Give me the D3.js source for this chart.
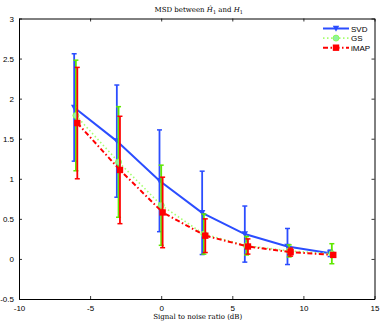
<!DOCTYPE html>
<html>
<head>
<meta charset="utf-8">
<script src="https://cdn.jsdelivr.net/npm/d3@7"></script>
<style>
  body { margin: 0; background: #fff; }
  .tick text { font-family: "Liberation Sans", Arial, sans-serif; font-size: 8px; }
</style>
</head>
<body>
<div id="content"></div>
<script>
// signal to noise ratio (dB)
var snr = [-6, -3, 0, 3, 6, 9, 12];

var svdMean = [1.89, 1.47, 0.975, 0.575, 0.31, 0.155, 0.07];
var svdErr  = [0.67, 0.70, 0.635, 0.52, 0.35, 0.225, 0.04];
var gsMean  = [1.79, 1.21, 0.67, 0.31, 0.165, 0.10, 0.065];
var gsErr   = [0.69, 0.69, 0.50, 0.25, 0.115, 0.075, 0.125];
var imapMean = [1.695, 1.11, 0.58, 0.29, 0.155, 0.085, 0.05];
var imapErr  = [0.695, 0.67, 0.44, 0.21, 0.095, 0.05, 0.02];

var xTicks = [-10, -5, 0, 5, 10, 15];
var yTicks = [-0.5, 0, 0.5, 1, 1.5, 2, 2.5, 3];

var W = 382, H = 323;
var margin = {
    top: 18.5,
    right: 7.5,
    bottom: 24,
    left: 19
},
    width = W - margin.left - margin.right,
    height = H - margin.top - margin.bottom;

var x = d3.scaleLinear().domain([-10, 15]).range([0, width]);
var y = d3.scaleLinear().domain([-0.5, 3]).range([height, 0]);

var svg = d3.select("#content").append("svg")
    .attr("width", W)
    .attr("height", H);

svg.append("text")
    .attr("x", margin.left + width / 2 + 2)
    .attr("y", 12)
    .attr("text-anchor", "middle")
    .style("font-family", "'DejaVu Serif', 'Liberation Serif', serif")
    .style("font-size", "7px")
    .html("MSD between <tspan font-style='italic'>Ĥ</tspan><tspan font-size='5px' dy='1.5'>1</tspan><tspan dy='-1.5'> and </tspan><tspan font-style='italic'>H</tspan><tspan font-size='5px' dy='1.5'>1</tspan>");

svg.append("text")
    .attr("x", margin.left + width / 2 + 1)
    .attr("y", 318.5)
    .attr("text-anchor", "middle")
    .style("font-family", "'DejaVu Serif', 'Liberation Serif', serif")
    .style("font-size", "7px")
    .text("Signal to noise ratio (dB)");

var g = svg.append("g")
    .attr("transform", "translate(" + margin.left + "," + margin.top + ")");

// axes, matlab style with inward ticks on all sides
function fmt(d) { return d3.format("")(d).replace("\u2212", "-"); }
g.append("g")
    .attr("transform", "translate(0," + height + ")")
    .call(d3.axisBottom(x).tickValues(xTicks).tickSizeInner(-3).tickSizeOuter(0).tickPadding(6).tickFormat(fmt));
g.append("g")
    .call(d3.axisTop(x).tickValues(xTicks).tickSizeInner(-3).tickSizeOuter(0).tickFormat(""));
g.append("g")
    .call(d3.axisLeft(y).tickValues(yTicks).tickSizeInner(-3).tickSizeOuter(0).tickPadding(5).tickFormat(fmt));
g.append("g")
    .attr("transform", "translate(" + width + ",0)")
    .call(d3.axisRight(y).tickValues(yTicks).tickSizeInner(-3).tickSizeOuter(0).tickFormat(""));
g.selectAll(".domain").attr("stroke", "#000").attr("stroke-width", 1);
g.selectAll(".tick line").attr("stroke", "#000").attr("stroke-width", 0.8);

var series = [
  { name: "SVD", mean: svdMean, err: svdErr, off: -0.12, color: "#2b4dff", bar: "#2b4dff", dash: null, width: 2, marker: "tri" },
  { name: "GS", mean: gsMean, err: gsErr, off: 0.0, color: "#a6ff70", bar: "#5fe800", dash: "1.5,2.5", width: 1.6, marker: "circle" },
  { name: "iMAP", mean: imapMean, err: imapErr, off: 0.1, color: "#ff0000", bar: "#ff0000", dash: "5,2.5,1.5,2.5", width: 2, marker: "square" }
];

var line = d3.line()
    .x(function (d) { return x(d.x); })
    .y(function (d) { return y(d.y); });

function drawMarker(sel, s, px, py) {
  if (s.marker == "tri") {
    sel.append("path")
      .attr("d", "M" + (px - 3.2) + "," + (py - 2.8) + "L" + (px + 3.2) + "," + (py - 2.8) + "L" + px + "," + (py + 3.2) + "Z")
      .attr("fill", s.color);
  } else if (s.marker == "circle") {
    sel.append("circle").attr("cx", px).attr("cy", py).attr("r", 3)
      .attr("fill", "#90f0a0").attr("stroke", "#80ff40").attr("stroke-width", 0.8);
  } else {
    sel.append("rect").attr("x", px - 3.2).attr("y", py - 3.2).attr("width", 6.4).attr("height", 6.4)
      .attr("fill", s.color);
  }
}

series.forEach(function (s) {
  var pts = snr.map(function (v, i) { return { x: v + s.off, y: s.mean[i], e: s.err[i] }; });
  var sg = g.append("g");
  sg.append("path")
    .datum(pts)
    .attr("fill", "none")
    .attr("stroke", s.color)
    .attr("stroke-width", s.width)
    .attr("stroke-dasharray", s.dash)
    .attr("d", line);
  // error bars
  pts.forEach(function (p) {
    var px = x(p.x), y0 = y(p.y - p.e), y1 = y(p.y + p.e);
    sg.append("line").attr("x1", px).attr("x2", px).attr("y1", y0).attr("y2", y1)
      .attr("stroke", s.bar).attr("stroke-width", 1.8);
    [y0, y1].forEach(function (yy) {
      sg.append("line").attr("x1", px - 2.5).attr("x2", px + 2.5).attr("y1", yy).attr("y2", yy)
        .attr("stroke", s.bar).attr("stroke-width", 1.5);
    });
  });
  pts.forEach(function (p) { drawMarker(sg, s, x(p.x), y(p.y)); });
});

// legend
var leg = svg.append("g").attr("transform", "translate(323,28.5)");
series.forEach(function (s, i) {
  var lg = leg.append("g").attr("transform", "translate(0," + (i * 9.6) + ")");
  lg.append("line").attr("x1", 0).attr("x2", 26).attr("y1", 0).attr("y2", 0)
    .attr("stroke", s.color).attr("stroke-width", s.width).attr("stroke-dasharray", s.dash);
  drawMarker(lg, s, 13, 0);
  lg.append("text").attr("x", 28).attr("y", 3)
    .style("font-family", "'Liberation Sans', Arial, sans-serif")
    .style("font-size", "8px")
    .text(s.name);
});
</script>
</body>
</html>
